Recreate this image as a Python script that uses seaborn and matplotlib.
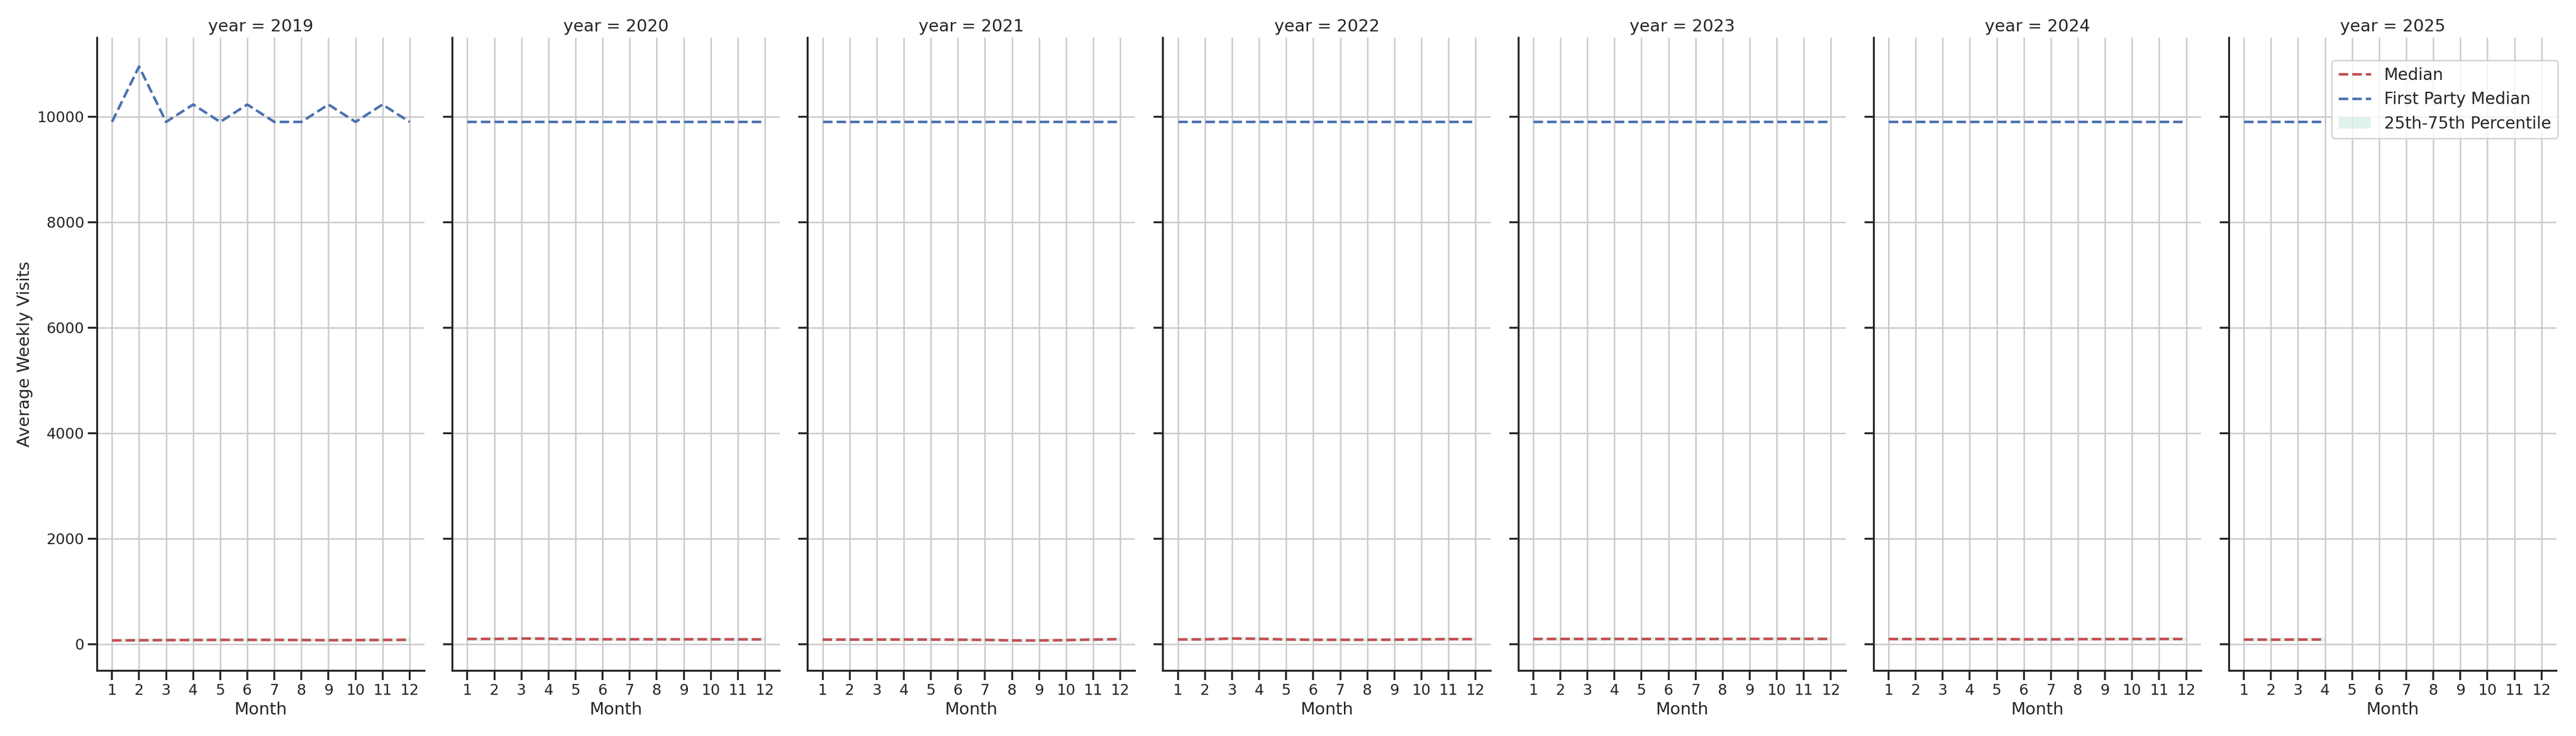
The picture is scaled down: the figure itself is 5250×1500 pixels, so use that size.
import numpy as np
import pandas as pd
import matplotlib
matplotlib.use("Agg")
import matplotlib.pyplot as plt
import seaborn as sns
from matplotlib.patches import Patch
from matplotlib.lines import Line2D

# ---------------- data ----------------
years = [2019, 2020, 2021, 2022, 2023, 2024, 2025]
months = list(range(1, 13))

median_2019 = [72, 75, 78, 80, 82, 83, 82, 80, 76, 78, 81, 84]
median_2020 = [99, 100, 108, 104, 94, 93, 94, 93, 93, 93, 92, 92]
median_2021 = [87, 88, 88, 89, 88, 86, 82, 72, 71, 78, 88, 96]
median_2022 = [90, 92, 108, 102, 90, 84, 84, 84, 86, 92, 96, 96]
median_2023 = [99, 99, 99, 100, 99, 99, 99, 99, 100, 102, 102, 100]
median_2024 = [98, 97, 98, 98, 97, 93, 92, 96, 97, 98, 99, 98]
median_2025 = [88, 86, 88, 90]

q25_offset = [28, 28, 28, 28, 28, 28, 28, 28, 28, 28, 28, 28]
q75_offset = [35, 35, 38, 38, 36, 35, 35, 35, 35, 35, 36, 36]

fp_2019 = [9900, 10950, 9900, 10230, 9900, 10230, 9900, 9900, 10230, 9900, 10230, 9900]
fp_2020 = [9900] * 12
fp_2021 = [9900] * 12
fp_2022 = [9900] * 12
fp_2023 = [9900] * 12
fp_2024 = [9900] * 12
fp_2025 = [9900] * 4

medians = [median_2019, median_2020, median_2021, median_2022, median_2023, median_2024, median_2025]
fps = [fp_2019, fp_2020, fp_2021, fp_2022, fp_2023, fp_2024, fp_2025]

rows = []
for y, med, fp in zip(years, medians, fps):
    for i, (m, fv) in enumerate(zip(med, fp)):
        rows.append({"year": y, "Month": months[i], "median": m,
                     "q25": m - q25_offset[i], "q75": m + q75_offset[i],
                     "fp_median": fv})
df = pd.DataFrame(rows)

# ---------------- style ----------------
RED = "#C44E52"
BLUE = "#4C72B0"
TEAL = "#66C2A5"
LW = 2.5

sns.set_theme(context="talk", style="ticks", rc={"axes.grid": True, "grid.color": ".8"})
plt.rcParams.update({
    "font.family": ["DejaVu Sans"],
    "xtick.labelsize": 14.5,
    "ytick.labelsize": 14.5,
    "axes.labelsize": 16.5,
    "axes.titlesize": 17,
    "legend.fontsize": 16,
})


def draw(data, **kwargs):
    ax = plt.gca()
    ax.fill_between(data["Month"], data["q25"], data["q75"], color=TEAL, alpha=0.2, linewidth=0)
    sns.lineplot(data=data, x="Month", y="median", color=RED, linestyle="--", linewidth=LW, ax=ax)
    sns.lineplot(data=data, x="Month", y="fp_median", color=BLUE, linestyle="--", linewidth=LW, ax=ax)


g = sns.FacetGrid(df, col="year", col_order=years, height=10, aspect=0.5, sharex=True, sharey=True)
g.map_dataframe(draw)
g.set_axis_labels("Month", "Average Weekly Visits")
for ax in g.axes.flat:
    ax.set_xticks(months)
    ax.set_xticklabels([str(m) for m in months])

last = g.axes.flat[-1]
handles = [
    Line2D([0], [0], color=RED, linestyle="--", linewidth=LW),
    Line2D([0], [0], color=BLUE, linestyle="--", linewidth=LW),
    Patch(facecolor=TEAL, alpha=0.2, edgecolor="none"),
]
labels = ["Median", "First Party Median", "25th-75th Percentile"]
last.legend(handles, labels, loc="upper right", bbox_to_anchor=(1.004, 0.964), borderaxespad=0)

g.figure.subplots_adjust(left=0.0377, right=0.9924, bottom=0.0887, top=0.9487, wspace=0.0853)
g.figure.savefig("out.png", dpi=150)
